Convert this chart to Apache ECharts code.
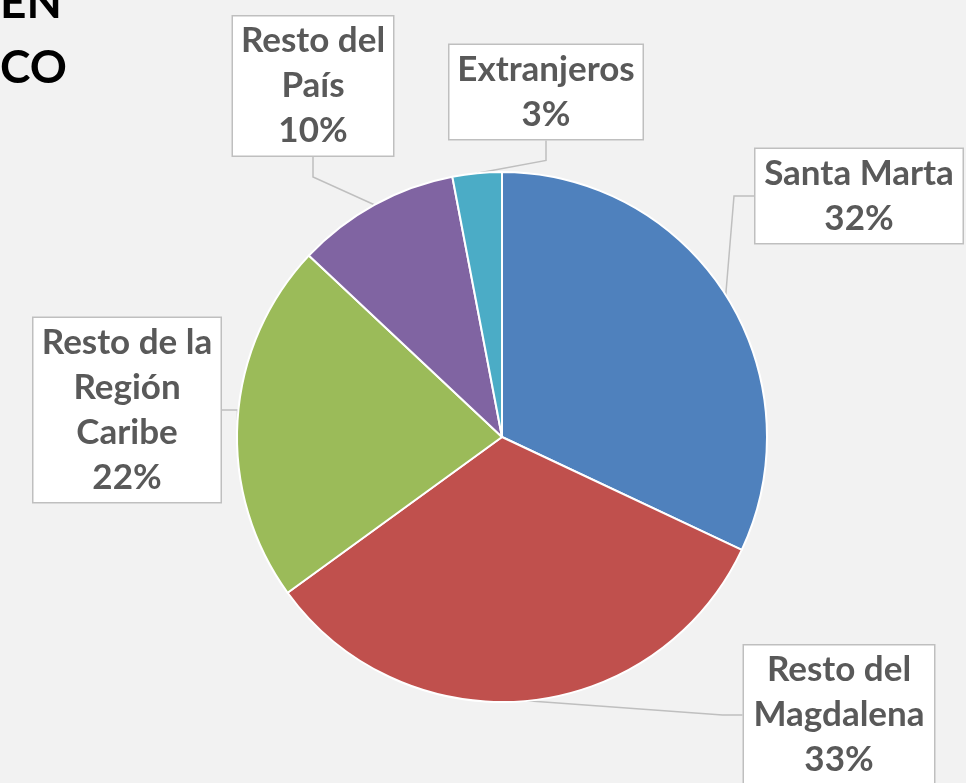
<!DOCTYPE html>
<html>
<head>
<meta charset="utf-8">
<script src="https://cdn.jsdelivr.net/npm/echarts@6/dist/echarts.min.js"></script>
<style>
  html, body { margin: 0; padding: 0; background: #f2f2f2; }
  #chart { width: 966px; height: 783px; }
</style>
</head>
<body>
<div id="chart"></div>
<script>
// datos del gráfico (orden horario desde las 12)
const categories = ['Santa Marta', 'Resto del\nMagdalena', 'Resto de la\nRegión\nCaribe', 'Resto del\nPaís', 'Extranjeros'];
const values = [32, 33, 22, 10, 3];
const colors = ['#4f81bd', '#c0504d', '#9bbb59', '#8064a2', '#4bacc6'];

// centro y ancho de texto de cada recuadro de etiqueta (px)
const labelCenters = [[859, 196], [839, 715], [127, 410], [313, 86], [546, 92]];
const labelWidths = [189, 172, 169, 142, 175];

const chart = echarts.init(document.getElementById('chart'));

const option = {
  backgroundColor: '#f2f2f2',
  animation: false,
  graphic: [
    { type: 'text', x: 0, y: 3, style: { text: 'EN', font: 'bold 46px Lato', fill: '#000', verticalAlign: 'middle' } },
    { type: 'text', x: 0, y: 68, style: { text: 'CO', font: 'bold 46px Lato', fill: '#000', verticalAlign: 'middle' } }
  ],
  series: [
    {
      type: 'pie',
      center: [502, 437],
      radius: 265,
      startAngle: 90,
      clockwise: true,
      itemStyle: { borderColor: '#fff', borderWidth: 2 },
      label: {
        show: true,
        formatter: '{b}\n{c}%',
        fontFamily: 'Lato',
        fontWeight: 'bold',
        fontSize: 35,
        lineHeight: 45,
        color: '#595959',
        backgroundColor: '#fff',
        borderColor: '#bfbfbf',
        borderWidth: 1.5,
        padding: [2, 9],
        align: 'center',
        overflow: 'none'
      },
      labelLine: {
        show: true,
        length: 20,
        length2: 20,
        lineStyle: { color: '#bfbfbf', width: 1.5 }
      },
      labelLayout: function (params) {
        const c = labelCenters[params.dataIndex];
        return { x: c[0], y: c[1], align: 'center', verticalAlign: 'middle' };
      },
      data: categories.map((name, i) => ({
        name: name,
        value: values[i],
        itemStyle: { color: colors[i] },
        label: { width: labelWidths[i] }
      }))
    }
  ]
};

chart.setOption(option);
</script>
</body>
</html>
